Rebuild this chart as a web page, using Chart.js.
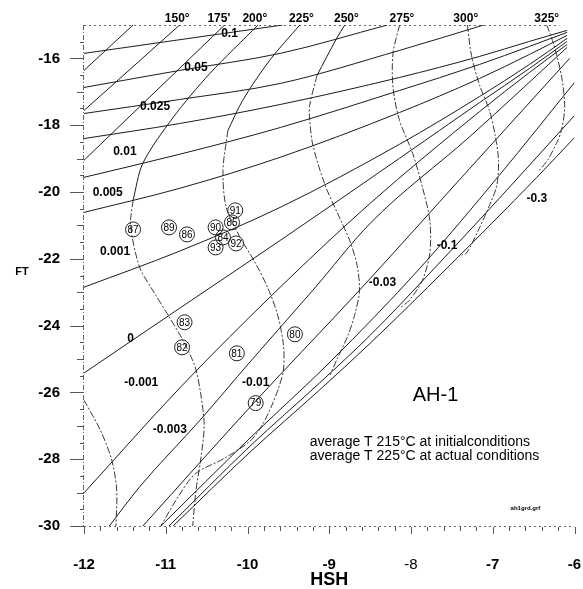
<!DOCTYPE html>
<html><head><meta charset="utf-8">
<script src="https://cdn.jsdelivr.net/npm/chart.js@4.4.1/dist/chart.umd.min.js"></script>
<style>html,body{margin:0;padding:0;background:#fff;}canvas{display:block;}</style>
</head><body>
<canvas id="c" width="583" height="589"></canvas>
<script>
// ---- axis ticks ----
const xTicks = [-12, -11, -10, -9, -8, -7, -6];
const yTicks = [-30, -28, -26, -24, -22, -20, -18, -16];

// ---- constant steam-fraction lines [HSH, FT] ----
const steamLine1 = [[-12.00,-15.85],[-9.57,-15.00]];
const steamLine2 = [[-12.00,-16.87],[-10.83,-16.36],[-9.60,-15.85],[-8.29,-15.00]];
const steamLine3 = [[-12.00,-17.65],[-10.83,-17.23],[-9.60,-16.75],[-8.14,-15.76],[-7.11,-15.00]];
const steamLine4 = [[-12.00,-18.40],[-10.83,-17.95],[-9.60,-17.38],[-8.14,-16.57],[-7.16,-15.94],[-6.55,-15.49],[-6.09,-15.16]];
const steamLine5 = [[-12.00,-19.56],[-10.83,-18.87],[-9.60,-18.07],[-8.14,-16.96],[-7.16,-16.18],[-6.55,-15.64],[-6.09,-15.22]];
const steamLine6 = [[-12.00,-20.61],[-10.83,-19.89],[-9.60,-18.96],[-8.14,-17.62],[-7.16,-16.60],[-6.55,-15.88],[-6.09,-15.31]];
const steamLine7 = [[-12.00,-22.85],[-10.83,-21.77],[-9.60,-20.46],[-8.14,-18.57],[-7.16,-17.14],[-6.55,-16.18],[-6.09,-15.40]];
const steamLine0 = [[-12.00,-25.42],[-10.83,-23.48],[-9.60,-21.45],[-8.14,-18.99],[-7.16,-17.32],[-6.55,-16.30],[-6.09,-15.49]];
const steamLineM0001 = [[-12.00,-29.01],[-10.83,-25.87],[-9.60,-22.85],[-8.50,-20.34],[-7.16,-17.59],[-6.55,-16.42],[-6.09,-15.58]];
const steamLineM0003 = [[-11.69,-30.00],[-11.32,-28.83],[-10.58,-26.83],[-9.97,-25.09],[-9.20,-22.94],[-8.50,-20.94],[-7.28,-18.34],[-6.09,-15.67]];
const steamLineM001 = [[-11.28,-30.00],[-9.89,-26.23],[-8.63,-22.94],[-7.28,-19.29],[-6.06,-16.00]];
const steamLineM003 = [[-11.06,-30.00],[-9.97,-27.37],[-8.99,-25.09],[-7.89,-22.28],[-6.92,-19.50],[-6.00,-16.72]];
const steamLineM01 = [[-10.96,-30.00],[-9.97,-27.61],[-9.12,-25.72],[-8.50,-24.29],[-7.77,-22.43],[-6.92,-20.19],[-6.00,-17.71]];
const steamLineM03 = [[-10.91,-30.00],[-9.97,-27.79],[-9.12,-25.93],[-8.50,-24.53],[-7.56,-22.28],[-6.46,-19.56],[-6.00,-18.37]];

// ---- isotherms [HSH, FT] ----
const iso125 = [[-11.40,-15.00],[-12.00,-16.36]];
const iso150 = [[-10.83,-15.00],[-12.00,-17.56]];
const iso175 = [[-10.28,-15.00],[-12.00,-19.05]];
const iso175Low = [[-12.00,-26.23],[-11.80,-27.13],[-11.66,-28.03],[-11.60,-28.92],[-11.61,-30.00]];
const iso200Top = [[-9.87,-15.00],[-10.46,-16.45],[-10.91,-17.77],[-11.28,-19.14],[-11.40,-20.25]];
const iso200Low = [[-11.40,-20.25],[-11.43,-21.00],[-11.32,-22.25],[-11.16,-22.94],[-10.97,-23.69],[-10.79,-24.44],[-10.64,-25.24],[-10.57,-26.08],[-10.53,-26.98],[-10.57,-27.97],[-10.63,-28.92],[-10.67,-30.00]];
const iso225Top = [[-9.36,-15.00],[-9.73,-16.06],[-10.06,-17.26],[-10.24,-18.16]];
const iso225Low = [[-10.24,-18.16],[-10.30,-19.35],[-10.26,-20.46],[-10.09,-21.36],[-9.91,-22.10],[-9.75,-22.88],[-9.63,-23.69],[-9.56,-24.59],[-9.56,-25.33],[-9.62,-25.87],[-9.70,-26.38],[-9.82,-26.98],[-9.97,-27.46],[-10.28,-27.97],[-10.64,-28.44],[-10.85,-29.13],[-11.06,-30.00]];
const iso250Top = [[-8.81,-15.00],[-8.91,-15.40],[-9.15,-16.51]];
const iso250Low = [[-9.15,-16.51],[-9.24,-17.41],[-9.24,-17.80],[-9.20,-18.60],[-9.05,-19.80],[-8.87,-20.79],[-8.75,-21.45],[-8.66,-22.19],[-8.63,-22.94],[-8.68,-23.60],[-8.77,-24.29],[-8.90,-24.98],[-8.99,-25.48]];
const iso275 = [[-8.14,-15.00],[-8.22,-15.85],[-8.22,-16.87],[-8.14,-17.86],[-7.98,-18.84],[-7.86,-19.86],[-7.77,-20.85],[-7.77,-21.83],[-7.86,-22.64],[-8.02,-23.24],[-8.14,-23.48]];
const iso300 = [[-7.31,-15.00],[-7.26,-15.91],[-7.16,-16.81],[-7.04,-17.56],[-6.97,-18.31],[-6.93,-19.05],[-6.95,-19.80],[-7.04,-20.40],[-7.16,-21.06],[-7.32,-21.83],[-7.38,-21.89]];
const iso325 = [[-6.34,-15.00],[-6.27,-15.46],[-6.21,-15.97],[-6.15,-16.66],[-6.12,-17.47],[-6.16,-18.16],[-6.22,-18.54],[-6.33,-19.05],[-6.43,-19.35]];

// ---- samples ----
const sampleIds = ['87','89','86','91','85','90','84','93','92','83','82','81','80','79'];
const sampleHSH = [-11.40,-10.96,-10.74,-10.15,-10.19,-10.39,-10.30,-10.39,-10.14,-10.77,-10.80,-10.13,-9.42,-9.90];
const sampleFT  = [-21.12,-21.06,-21.27,-20.55,-20.91,-21.06,-21.36,-21.66,-21.54,-23.90,-24.65,-24.83,-24.26,-26.32];

// ---- labels ----
const steamLabels = ['0.1','0.05','0.025','0.01','0.005','0.001','0','-0.001','-0.003','-0.01','-0.03','-0.1','-0.3'];
const steamLabelHSH = [-10.22,-10.63,-11.13,-11.50,-11.71,-11.62,-11.43,-11.30,-10.95,-9.90,-8.35,-7.56,-6.46];
const steamLabelFT  = [-15.25,-16.27,-17.44,-18.78,-20.01,-21.80,-24.38,-25.72,-27.13,-25.72,-22.73,-21.60,-20.19];
const isoLabels = ['150°',"175'",'200°','225°','250°','275°','300°','325°'];
const isoLabelHSH = [-10.86,-10.35,-9.91,-9.34,-8.79,-8.11,-7.33,-6.34];

const FONT = 'Liberation Sans, Arial, Helvetica, sans-serif';
const toPts = a => a.map(p => ({x: p[0], y: p[1]}));
const steam = a => ({data: toPts(a), showLine: true, pointRadius: 0, borderWidth: 1, borderColor: '#1c1c1c', cubicInterpolationMode: 'monotone', fill: false});
const solid = (a, t) => ({data: toPts(a), showLine: true, pointRadius: 0, borderWidth: 1, borderColor: '#1c1c1c', tension: t || 0, fill: false});
const dashed = (a, t) => ({data: toPts(a), showLine: true, pointRadius: 0, borderWidth: 1, borderColor: '#3a3a3a', borderDash: [7, 2, 2, 2], tension: t || 0, fill: false});

const datasets = [
  steam(steamLine1), steam(steamLine2), steam(steamLine3), steam(steamLine4),
  steam(steamLine5), steam(steamLine6), steam(steamLine7), steam(steamLine0),
  steam(steamLineM0001), steam(steamLineM0003), steam(steamLineM001),
  steam(steamLineM003), steam(steamLineM01), steam(steamLineM03),
  solid(iso125), solid(iso150), solid(iso175), dashed(iso175Low, 0.3),
  solid(iso200Top, 0.3), dashed(iso200Low, 0.3), solid(iso225Top, 0.3), dashed(iso225Low, 0.3),
  solid(iso250Top, 0.3), dashed(iso250Low, 0.3), dashed(iso275, 0.3), dashed(iso300, 0.3), dashed(iso325, 0.3),
  {data: sampleHSH.map((v, i) => ({x: v, y: sampleFT[i]})), showLine: false, pointRadius: 7.5,
   pointBorderWidth: 1, pointBorderColor: '#222', pointBackgroundColor: 'rgba(255,255,255,0)'}
];
const SAMPLE_DS = datasets.length - 1;

const overlay = {
  id: 'overlay',
  beforeDatasetsDraw(chart) {
    const {ctx, chartArea: a, scales: {x, y}} = chart;
    ctx.save();
    ctx.strokeStyle = '#666'; ctx.lineWidth = 1;
    ctx.setLineDash([5, 2, 1, 2]);
    ctx.beginPath(); ctx.moveTo(a.left - 0.5, a.top); ctx.lineTo(a.left - 0.5, a.bottom); ctx.stroke();
    ctx.setLineDash([2, 3]);
    ctx.beginPath(); ctx.moveTo(a.left, a.top + 0.5); ctx.lineTo(a.right - 15, a.top + 0.5); ctx.stroke();
    ctx.beginPath(); ctx.moveTo(a.left, a.bottom + 0.5); ctx.lineTo(a.right, a.bottom + 0.5); ctx.stroke();
    ctx.setLineDash([]);
    ctx.strokeStyle = '#555';
    for (let v = -30; v <= -15.01; v += 0.5) {
      const p = Math.round(y.getPixelForValue(v)) + 0.5;
      const len = (Math.abs(v % 2) < 0.01) ? 14 : (Math.abs(v % 1) < 0.01 ? 7 : 4);
      ctx.beginPath(); ctx.moveTo(a.left - len, p); ctx.lineTo(a.left, p); ctx.stroke();
    }
    for (let i = 0; i <= 30; i++) {
      const v = -12 + i * 0.2;
      const p = Math.round(x.getPixelForValue(v)) + 0.5;
      const len = (i % 5 === 0) ? 7 : 4;
      ctx.beginPath(); ctx.moveTo(p, a.bottom + 1); ctx.lineTo(p, a.bottom + 1 + len); ctx.stroke();
    }
    ctx.restore();
  },
  afterDatasetsDraw(chart) {
    const {ctx, chartArea: a, scales: {x, y}} = chart;
    ctx.save();
    ctx.fillStyle = '#000';
    ctx.textAlign = 'center'; ctx.textBaseline = 'middle';
    ctx.font = 'bold 12px ' + FONT;
    steamLabels.forEach((t, i) => ctx.fillText(t, x.getPixelForValue(steamLabelHSH[i]), y.getPixelForValue(steamLabelFT[i])));
    ctx.textBaseline = 'bottom';
    isoLabels.forEach((t, i) => ctx.fillText(t, x.getPixelForValue(isoLabelHSH[i]), a.top));
    ctx.textBaseline = 'middle';
    ctx.font = '10px ' + FONT;
    const meta = chart.getDatasetMeta(SAMPLE_DS);
    meta.data.forEach((el, i) => ctx.fillText(sampleIds[i], el.x, el.y + 0.5));
    ctx.font = '20px ' + FONT;
    ctx.fillText('AH-1', x.getPixelForValue(-7.70), y.getPixelForValue(-26.08));
    ctx.textAlign = 'left';
    ctx.font = '14px ' + FONT;
    ctx.fillText('average T 215°C at initialconditions', x.getPixelForValue(-9.24), y.getPixelForValue(-27.49));
    ctx.fillText('average T 225°C at actual conditions', x.getPixelForValue(-9.24), y.getPixelForValue(-27.91));
    ctx.textAlign = 'center';
    ctx.font = 'bold 6px ' + FONT;
    ctx.fillText('ah1grd.grf', x.getPixelForValue(-6.60), y.getPixelForValue(-29.46));
    ctx.font = 'bold 18px ' + FONT;
    ctx.fillText('HSH', (a.left + a.right) / 2, 580);
    ctx.font = 'bold 11px ' + FONT;
    ctx.fillText('FT', 22, 272);
    ctx.restore();
  }
};

new Chart(document.getElementById('c'), {
  type: 'scatter',
  data: {datasets},
  options: {
    responsive: false, animation: false, devicePixelRatio: 1,
    layout: {padding: {top: 25, right: 8, left: 0, bottom: 0}},
    plugins: {legend: {display: false}, tooltip: {enabled: false}},
    scales: {
      x: {
        type: 'linear', min: -12, max: -6,
        grid: {display: false, drawTicks: false}, border: {display: false},
        afterBuildTicks: s => { s.ticks = xTicks.map(v => ({value: v})); },
        ticks: {padding: 30, color: '#000', callback: v => String(v),
          font: c => ({family: FONT, size: 15, weight: (c.tick && c.tick.value === -8) ? 'normal' : 'bold'})},
        afterFit: s => { s.height = 63; s.paddingLeft = 0; s.paddingRight = 0; }
      },
      y: {
        type: 'linear', min: -30, max: -15,
        grid: {display: false, drawTicks: false}, border: {display: false},
        afterBuildTicks: s => { s.ticks = yTicks.map(v => ({value: v})); },
        ticks: {padding: 24, color: '#000', callback: v => String(v), font: {family: FONT, size: 15, weight: 'bold'}},
        afterFit: s => { s.width = 84; s.paddingTop = 0; s.paddingBottom = 0; }
      }
    }
  },
  plugins: [overlay]
});
</script>
</body></html>
